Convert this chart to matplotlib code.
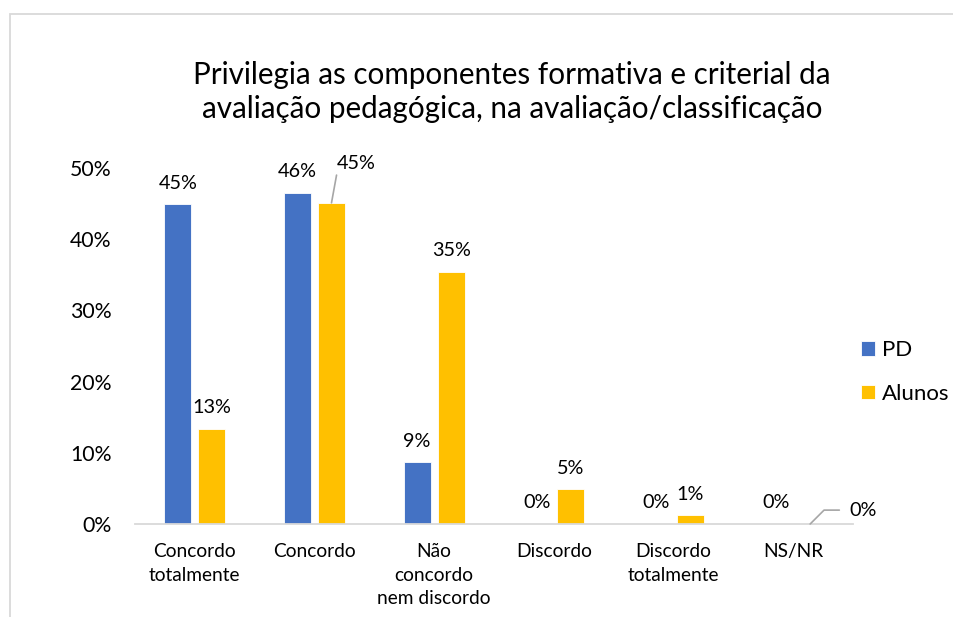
import numpy as np
import matplotlib.pyplot as plt
from matplotlib.patches import Rectangle

plt.rcParams['font.family'] = ['Lato', 'DejaVu Sans']

categorias = ['Concordo\ntotalmente', 'Concordo', 'Não\nconcordo\nnem discordo',
              'Discordo', 'Discordo\ntotalmente', 'NS/NR']
pd_vals = [0.449, 0.465, 0.087, 0.0, 0.0, 0.0]
alunos_vals = [0.134, 0.451, 0.354, 0.049, 0.012, 0.0]
titulo = 'Privilegia as componentes formativa e criterial da\navaliação pedagógica, na avaliação/classificação'

W, H = 954, 617
fig = plt.figure(figsize=(W / 100, H / 100), dpi=100)
ax = fig.add_axes([135 / W, 1 - 524 / H, (853 - 135) / W, (524 - 168) / H])

# moldura do gráfico (só topo e esquerda visíveis)
fig.patches.append(Rectangle((10 / W, -0.1), 1.2, 1 - 14 / H + 0.1, transform=fig.transFigure,
                             fill=False, edgecolor='#D9D9D9', linewidth=1.3))

x = np.arange(len(categorias))
w = 0.226
off = 0.142
b1 = ax.bar(x - off, pd_vals, w, color='#4472C4', edgecolor='white', linewidth=0.6, label='PD')
b2 = ax.bar(x + off, alunos_vals, w, color='#FFC000', edgecolor='white', linewidth=0.6, label='Alunos')

ax.set_xlim(-0.5, len(categorias) - 0.5)
ax.set_ylim(0, 0.5)
ax.set_yticks(np.arange(0, 0.51, 0.1))
ax.set_yticklabels([f'{int(round(v * 100))}%' for v in np.arange(0, 0.51, 0.1)], fontsize=15.3)
ax.set_xticks(x)
ax.set_xticklabels(categorias, fontsize=13.8, linespacing=1.45)
ax.tick_params(length=0, pad=14)
ax.tick_params(axis='y', pad=17)
for s in ['top', 'right', 'left']:
    ax.spines[s].set_visible(False)
ax.spines['bottom'].set_color('#D9D9D9')
ax.spines['bottom'].set_linewidth(1.3)

# rótulos dos dados
fs = 14.3
for i, v in enumerate(pd_vals):
    ax.annotate(f'{round(v * 100):.0f}%', (x[i] - off, v), xytext=(0, 9),
                textcoords='offset points', ha='center', va='bottom', fontsize=fs)
for i, v in enumerate(alunos_vals):
    if i == 1:
        ax.annotate(f'{round(v * 100):.0f}%', (x[i] + off, v), xytext=(18, 22),
                    textcoords='offset points', ha='center', va='bottom', fontsize=fs,
                    arrowprops=dict(arrowstyle='-', color='#A6A6A6', lw=1.2, shrinkA=0, shrinkB=0,
                                    relpos=(0.0, 0.0)))
    elif i == 5:
        ax.annotate(f'{round(v * 100):.0f}%', (x[i] + off, v), xytext=(28, 10),
                    textcoords='offset points', ha='left', va='center', fontsize=fs,
                    arrowprops=dict(arrowstyle='-', color='#A6A6A6', lw=1.2, shrinkA=5, shrinkB=0,
                                    connectionstyle='angle,angleA=0,angleB=45,rad=0'))
    else:
        ax.annotate(f'{round(v * 100):.0f}%', (x[i] + off, v), xytext=(0, 9),
                    textcoords='offset points', ha='center', va='bottom', fontsize=fs)

fig.text(512 / W, 1 - 92 / H, titulo, ha='center', va='center', fontsize=21.3, linespacing=1.27)

fig.legend(handles=[b1, b2], loc='center left', bbox_to_anchor=(841 / W, 1 - 372 / H),
           frameon=False, fontsize=16, handlelength=0.64, handleheight=0.64,
           handletextpad=0.3, labelspacing=1.05)

fig.savefig('out.png', dpi=100)
